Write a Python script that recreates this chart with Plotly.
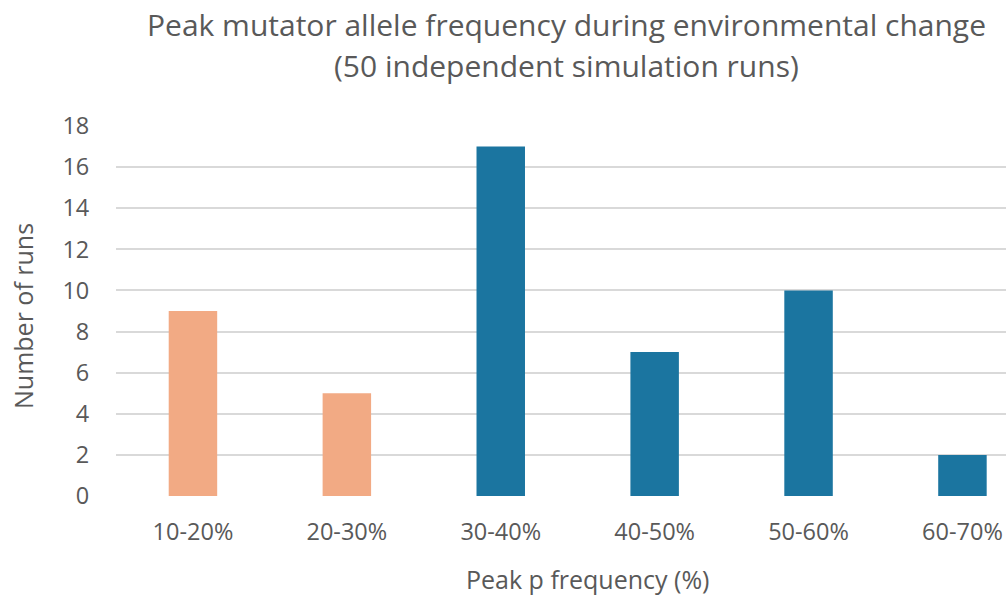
import plotly.graph_objects as go

categories = ["10-20%", "20-30%", "30-40%", "40-50%", "50-60%", "60-70%"]
runs = [9, 5, 17, 7, 10, 2]
bar_colors = ["#F2AA84", "#F2AA84", "#1B75A0", "#1B75A0", "#1B75A0", "#1B75A0"]
y_ticks = [0, 2, 4, 6, 8, 10, 12, 14, 16, 18]

title_line1 = "Peak mutator allele frequency during environmental change"
title_line2 = "(50 independent simulation runs)"
x_title = "Peak p frequency (%)"
y_title = "Number of runs"

W, H = 1006, 599
L, R, T, B = 116, 0, 126, 103
FONT = "Open Sans"
GRAY = "#595959"

fig = go.Figure(go.Bar(
    x=categories, y=runs, marker=dict(color=bar_colors, line=dict(width=0)),
    width=0.315,
))

fig.update_layout(
    width=W, height=H,
    margin=dict(l=L, r=R, t=T, b=B, pad=0),
    paper_bgcolor="white", plot_bgcolor="white",
    font=dict(family=FONT, color=GRAY, size=23),
    showlegend=False,
    xaxis=dict(
        type="category", range=[-0.5, -0.5 + (W - L - R) / 153.9],
        showgrid=False, zeroline=False, showline=False,
        ticks="outside", ticklen=15, tickcolor="rgba(0,0,0,0)",
        tickfont=dict(size=23.5, color=GRAY, family=FONT),
    ),
    yaxis=dict(
        range=[0, 18], tickvals=y_ticks,
        showgrid=True, gridcolor="#D9D9D9", gridwidth=1.5,
        zeroline=False, showline=False,
        ticks="outside", ticklen=21, tickcolor="rgba(0,0,0,0)",
        tickfont=dict(size=23.5, color=GRAY, family=FONT),
    ),
    annotations=[
        dict(text=title_line1, xref="paper", yref="paper",
             x=(566 - L) / (W - L - R), y=1 + (126 - 35) / (H - T - B),
             xanchor="center", yanchor="bottom", yshift=-12, showarrow=False,
             font=dict(size=30, color=GRAY, family=FONT)),
        dict(text=title_line2, xref="paper", yref="paper",
             x=(566 - L) / (W - L - R), y=1 + (126 - 75) / (H - T - B),
             xanchor="center", yanchor="bottom", yshift=-13, showarrow=False,
             font=dict(size=30, color=GRAY, family=FONT)),
        dict(text=x_title, xref="paper", yref="paper",
             x=(587 - L) / (W - L - R), y=-(588 - 496) / (H - T - B),
             xanchor="center", yanchor="bottom", yshift=-10, showarrow=False,
             font=dict(size=25, color=GRAY, family=FONT)),
        dict(text=y_title, xref="paper", yref="paper", textangle=-90,
             x=-(L - 23) / (W - L - R), y=(496 - 316) / (H - T - B),
             xanchor="center", yanchor="middle", showarrow=False,
             font=dict(size=25, color=GRAY, family=FONT)),
    ],
)

fig.write_html("out.html")
